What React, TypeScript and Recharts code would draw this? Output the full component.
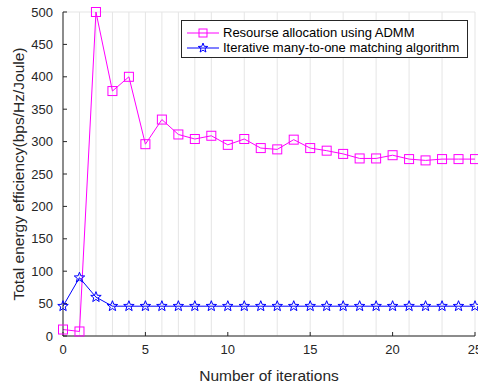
import { LineChart, Line, XAxis, YAxis, CartesianGrid } from 'recharts'

const iterations = Array.from({ length: 26 }, (_, i) => i)
const admm = [10, 7, 500, 378, 400, 296, 334, 311, 304, 309, 295, 304, 290, 288, 303, 290, 286, 281, 274, 274, 279, 273, 271, 273, 273, 273]
const matching = [46, 90, 60, 46, 46, 46, 46, 46, 46, 46, 46, 46, 46, 46, 46, 46, 46, 46, 46, 46, 46, 46, 46, 46, 46, 46]
const xTicks = [0, 5, 10, 15, 20, 25]
const yTicks = [0, 50, 100, 150, 200, 250, 300, 350, 400, 450, 500]

const data = iterations.map((it, i) => ({ it, admm: admm[i], matching: matching[i] }))

const MAGENTA = '#ff00ff'
const BLUE = '#0000ff'
const AXIS = '#262626'
const FONT = '"Liberation Sans", Arial, Helvetica, sans-serif'

function starPath(cx: number, cy: number, r: number) {
  const pts: string[] = []
  for (let k = 0; k < 10; k++) {
    const rad = k % 2 === 0 ? r : r * 0.42
    const a = -Math.PI / 2 + (k * Math.PI) / 5
    pts.push(`${(cx + rad * Math.cos(a)).toFixed(2)},${(cy + rad * Math.sin(a)).toFixed(2)}`)
  }
  return `M${pts.join('L')}Z`
}

const SquareDot = (props: any) => {
  const { cx, cy, index } = props
  if (cx == null || cy == null) return null
  return <rect key={index} x={cx - 4.5} y={cy - 4.5} width={9} height={9} fill="none" stroke={MAGENTA} strokeWidth={1} />
}

const StarDot = (props: any) => {
  const { cx, cy, index } = props
  if (cx == null || cy == null) return null
  return <path key={index} d={starPath(cx, cy, 5.5)} fill="none" stroke={BLUE} strokeWidth={1} />
}

function Legend() {
  const row = (color: string, label: string, marker: 'sq' | 'star') => (
    <div style={{ display: 'flex', alignItems: 'center', height: 15 }}>
      <svg width={36} height={12} style={{ marginRight: 2 }}>
        <line x1={2} y1={6} x2={34} y2={6} stroke={color} strokeWidth={1} />
        {marker === 'sq' ? (
          <rect x={14} y={2} width={8} height={8} fill="none" stroke={color} />
        ) : (
          <path d={starPath(18, 6, 5)} fill="none" stroke={color} />
        )}
      </svg>
      <span>{label}</span>
    </div>
  )
  return (
    <div
      style={{
        position: 'absolute', left: 181, top: 20, width: 287, height: 38,
        border: `1px solid ${AXIS}`, background: '#fff', fontFamily: FONT, fontSize: 13,
        color: '#000', padding: '4px 0 0 3px', boxSizing: 'border-box', lineHeight: '15px',
      }}
    >
      {row(MAGENTA, 'Resourse allocation using ADMM', 'sq')}
      {row(BLUE, 'Iterative many-to-one matching algorithm', 'star')}
    </div>
  )
}

const YLabel = () => (
  <text
    x={18} y={174} transform="rotate(-90 18 174)" textAnchor="middle" dominantBaseline="central"
    fill={AXIS} fontSize={15.5} fontFamily={FONT}
  >
    Total energy efficiency(bps/Hz/Joule)
  </text>
)

export default function App() {
  const tick = { fill: AXIS, fontSize: 13, fontFamily: FONT }
  return (
    <div style={{ position: 'absolute', left: 0, top: 0, width: 478, height: 385, background: '#fff' }}>
      <LineChart width={478} height={385} data={data} margin={{ top: 12, right: 3, left: 0, bottom: 0 }}>
        <CartesianGrid stroke="#e5e5e5" vertical horizontal />
        <XAxis
          xAxisId="b" dataKey="it" type="number" domain={[0, 25]} ticks={xTicks} height={49}
          stroke={AXIS} tick={tick} tickSize={-4} tickMargin={13} interval={0}
          label={{ value: 'Number of iterations', position: 'insideBottom', offset: 4, fill: AXIS, fontSize: 15.5, fontFamily: FONT }}
        />
        <XAxis
          xAxisId="t" dataKey="it" type="number" domain={[0, 25]} ticks={xTicks} orientation="top" height={0}
          stroke={AXIS} tick={false} tickSize={-4}
        />
        <YAxis
          yAxisId="l" type="number" domain={[0, 500]} ticks={yTicks} width={63}
          stroke={AXIS} tick={tick} tickSize={-4} tickMargin={14} interval={0}
          label={{ content: YLabel }}
        />
        <YAxis
          yAxisId="r" type="number" domain={[0, 500]} ticks={yTicks} orientation="right" width={0}
          stroke={AXIS} tick={false} tickSize={-4}
        />
        <Line xAxisId="b" yAxisId="l" dataKey="admm" stroke={MAGENTA} strokeWidth={1} dot={SquareDot} isAnimationActive={false} />
        <Line xAxisId="b" yAxisId="l" dataKey="matching" stroke={BLUE} strokeWidth={1} dot={StarDot} isAnimationActive={false} />
      </LineChart>
      <Legend />
    </div>
  )
}
